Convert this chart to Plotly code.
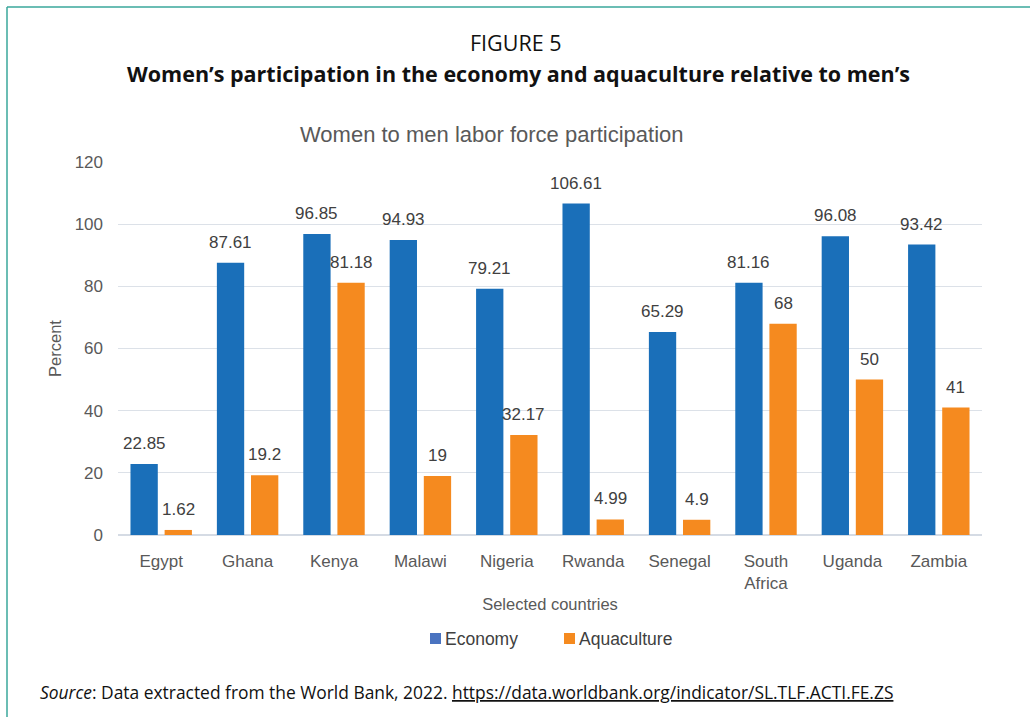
import plotly.graph_objects as go

countries = ["Egypt", "Ghana", "Kenya", "Malawi", "Nigeria", "Rwanda",
             "Senegal", "South<br>Africa", "Uganda", "Zambia"]
economy = [22.85, 87.61, 96.85, 94.93, 79.21, 106.61, 65.29, 81.16, 96.08, 93.42]
aquaculture = [1.62, 19.2, 81.18, 19, 32.17, 4.99, 4.9, 68, 50, 41]
y_ticks = [0, 20, 40, 60, 80, 100, 120]

series = [
    ("Economy", economy, "#1A6FB9", "#4A73C0", -1),
    ("Aquaculture", aquaculture, "#F58A1F", "#F58A1F", 1),
]

W, H = 1030, 717
ML, MR, MT, MB = 118, 48, 162, 182
PW, PH = W - ML - MR, H - MT - MB
BARGAP, GROUPGAP = 0.21, 0.2

def px(x):
    return (x - ML) / PW

def py(y):
    return (H - MB - y) / PH

# horizontal offset of each bar centre from its category centre, in pixels
cat_w = PW / len(countries)
slot_w = cat_w * (1 - BARGAP) / len(series)
bar_dx = slot_w / 2

label_font = dict(family="Liberation Sans, Arial", size=17, color="#404040")

fig = go.Figure()
annotations = []
for name, vals, color, _, side in series:
    fig.add_trace(go.Bar(
        x=countries, y=vals, name=name,
        marker=dict(color=color, line=dict(width=0)),
        showlegend=False,
    ))
    for c, v in zip(countries, vals):
        annotations.append(dict(
            x=c, y=v, xref="x", yref="y", text=f"{v:g}", showarrow=False,
            xanchor="center", yanchor="bottom", xshift=side * bar_dx, yshift=9,
            font=label_font,
        ))

# legend drawn as swatch + caption pairs
legend_items = [(name, swatch, x0) for (name, _, _, swatch, _), x0
                in zip(series, [430, 564])]
shapes = []
for name, color, x0 in legend_items:
    shapes.append(dict(type="rect", xref="paper", yref="paper",
                       x0=px(x0), x1=px(x0 + 11), y0=py(633), y1=py(644),
                       fillcolor=color, line=dict(width=0)))
    annotations.append(dict(text=name, x=px(x0 + 13), y=py(639),
                            xref="paper", yref="paper", showarrow=False,
                            xanchor="left", yanchor="middle",
                            font=dict(family="Liberation Sans, Arial", size=17.5,
                                      color="#404040")))

annotations += [
    dict(text="FIGURE 5", x=px(516), y=py(42), xref="paper", yref="paper",
         showarrow=False, xanchor="center", yanchor="middle",
         font=dict(family="Open Sans, Noto Sans", size=21.5, color="#111111")),
    dict(text="<b>Women’s participation in the economy and aquaculture relative to men’s</b>",
         x=px(518), y=py(73), xref="paper", yref="paper",
         showarrow=False, xanchor="center", yanchor="middle",
         font=dict(family="Open Sans, Noto Sans", size=21.5, color="#111111")),
    dict(text="Women to men labor force participation", x=px(492), y=py(135),
         xref="paper", yref="paper", showarrow=False,
         xanchor="center", yanchor="middle",
         font=dict(family="Liberation Sans, Arial", size=22, color="#595959")),
    dict(text="<i>Source</i>: Data extracted from the World Bank, 2022. "
              "<u>https://data.worldbank.org/indicator/SL.TLF.ACTI.FE.ZS</u>",
         x=px(38), y=py(692), xref="paper", yref="paper", showarrow=False,
         xanchor="left", yanchor="middle",
         font=dict(family="Open Sans, Noto Sans", size=17.4, color="#111111")),
]

shapes += [
    dict(type="line", xref="paper", yref="paper",
         x0=px(7), x1=px(7), y0=py(7), y1=py(H + 5),
         line=dict(color="#3AA79B", width=1.5)),
    dict(type="line", xref="paper", yref="paper",
         x0=px(7), x1=px(W + 5), y0=py(7), y1=py(7),
         line=dict(color="#3AA79B", width=1.5)),
]

fig.update_layout(
    width=W, height=H,
    margin=dict(l=ML, r=MR, t=MT, b=MB),
    paper_bgcolor="white", plot_bgcolor="white",
    barmode="group", bargap=BARGAP, bargroupgap=GROUPGAP,
    font=dict(family="Liberation Sans, Arial", size=16, color="#595959"),
    showlegend=False,
    xaxis=dict(
        showgrid=False, showline=False, ticks="",
        tickfont=dict(size=17, color="#595959"), ticklabelstandoff=14,
        title=dict(text="Selected countries", standoff=6,
                   font=dict(size=16.5, color="#595959")),
    ),
    yaxis=dict(
        range=[0, 120], tickvals=y_ticks, showgrid=True,
        gridcolor="#DCE1E8", gridwidth=1, zeroline=True,
        zerolinecolor="#D5DBE4", zerolinewidth=1.5, showline=False,
        tickfont=dict(size=17, color="#595959"), ticklabelstandoff=14,
        title=dict(text="Percent", standoff=8,
                   font=dict(size=16.5, color="#595959")),
    ),
    annotations=annotations,
    shapes=shapes,
)

fig.write_html("out.html")
